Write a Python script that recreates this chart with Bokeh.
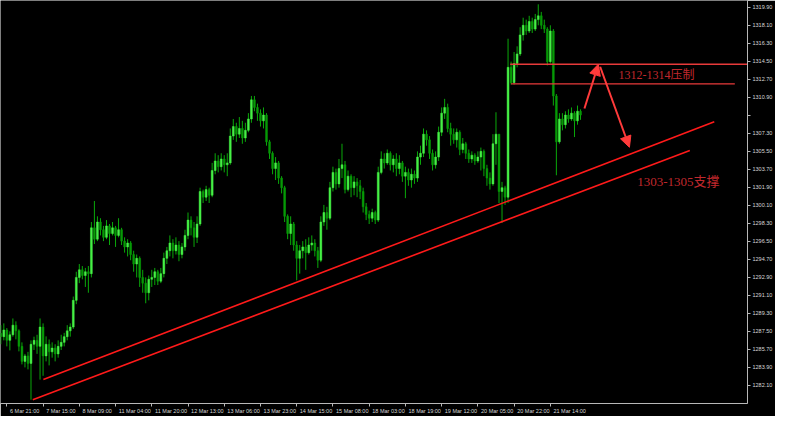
from bokeh.plotting import figure
from bokeh.models import Range1d, FixedTicker, Arrow, NormalHead, Label, ColumnDataSource
from bokeh.embed import file_html
from bokeh.resources import INLINE

# ---------------- data (XAUUSD H1) ----------------
first_open = 1287.30
close = [
1286.97, 1287.64, 1286.60, 1287.16, 1288.12, 1287.55, 1286.00, 1284.50, 1285.05, 1284.30,
1286.21, 1286.60, 1286.00, 1287.93, 1285.05, 1286.21, 1285.45, 1285.83, 1285.25, 1286.00,
1286.40, 1286.97, 1287.55, 1287.93, 1290.60, 1292.89, 1293.65, 1293.08, 1293.46, 1293.27,
1297.85, 1296.71, 1298.43, 1297.66, 1296.90, 1298.04, 1297.28, 1297.85, 1297.09, 1297.66,
1296.52, 1295.94, 1296.33, 1295.18, 1294.23, 1294.80, 1292.89, 1292.32, 1291.36, 1292.70,
1292.89, 1293.46, 1292.51, 1293.27, 1294.80, 1295.56, 1296.33, 1295.56, 1296.13, 1295.18,
1295.94, 1297.09, 1298.62, 1297.85, 1296.90, 1298.23, 1301.48, 1300.91, 1301.67, 1301.10,
1303.58, 1304.53, 1303.96, 1304.73, 1304.15, 1304.34, 1307.02, 1307.97, 1307.21, 1307.78,
1306.83, 1307.59, 1308.73, 1310.64, 1309.88, 1309.31, 1308.54, 1309.12, 1306.44, 1305.30,
1303.77, 1304.34, 1302.82, 1301.86, 1299.00, 1297.28, 1298.23, 1296.13, 1294.80, 1295.56,
1295.94, 1295.37, 1296.13, 1296.33, 1295.56, 1294.61, 1298.43, 1299.38, 1298.81, 1301.86,
1303.39, 1302.24, 1303.77, 1304.15, 1301.67, 1303.01, 1301.86, 1302.44, 1302.05, 1301.48,
1299.95, 1299.19, 1298.81, 1299.38, 1298.62, 1303.39, 1304.73, 1304.34, 1305.30, 1304.15,
1304.73, 1303.77, 1304.34, 1303.01, 1303.39, 1302.63, 1303.20, 1302.82, 1304.92, 1305.30,
1307.21, 1306.64, 1305.30, 1304.15, 1304.92, 1307.40, 1309.31, 1309.88, 1307.78, 1307.21,
1306.64, 1307.40, 1305.68, 1306.25, 1305.30, 1304.73, 1305.11, 1304.53, 1304.92, 1305.49,
1303.77, 1302.82, 1302.24, 1306.25, 1307.21, 1301.48, 1301.86, 1300.91, 1313.89, 1312.36,
1314.27, 1315.23, 1317.13, 1318.09, 1317.52, 1318.47, 1317.71, 1318.66, 1319.04, 1318.09,
1317.71, 1314.46, 1317.52, 1311.03, 1306.44, 1308.73, 1308.16, 1309.12, 1308.73, 1309.31,
1308.54, 1309.50, 1309.12,
]
high = [
1288.12, 1288.30, 1287.83, 1287.50, 1288.79, 1288.50, 1287.70, 1286.40, 1285.25, 1285.45,
1286.60, 1286.97, 1287.16, 1288.79, 1288.30, 1287.00, 1286.69, 1286.40, 1286.21, 1286.60,
1287.16, 1287.35, 1288.12, 1288.30, 1290.98, 1293.46, 1294.23, 1294.03, 1293.84, 1294.03,
1298.43, 1300.53, 1299.00, 1298.81, 1298.04, 1298.62, 1298.23, 1298.43, 1298.04, 1298.81,
1297.85, 1296.90, 1296.71, 1296.52, 1295.56, 1295.18, 1294.99, 1293.65, 1292.89, 1293.08,
1293.65, 1293.84, 1293.65, 1293.84, 1295.37, 1295.94, 1297.09, 1296.71, 1296.90, 1296.52,
1296.33, 1297.66, 1299.38, 1299.00, 1298.43, 1299.00, 1301.86, 1301.67, 1302.05, 1301.86,
1304.34, 1305.30, 1305.11, 1305.30, 1305.11, 1305.30, 1307.78, 1308.73, 1308.35, 1308.92,
1308.54, 1308.35, 1309.31, 1311.03, 1311.03, 1310.26, 1309.69, 1309.88, 1309.31, 1306.64,
1305.49, 1304.92, 1304.53, 1303.01, 1302.05, 1299.19, 1299.00, 1298.43, 1296.52, 1296.13,
1296.52, 1296.71, 1296.90, 1297.09, 1296.71, 1295.94, 1299.00, 1300.14, 1299.95, 1302.44,
1303.96, 1303.77, 1304.73, 1306.25, 1304.53, 1303.58, 1303.20, 1303.01, 1302.82, 1302.63,
1301.86, 1300.33, 1299.57, 1299.76, 1299.57, 1303.96, 1305.49, 1305.30, 1305.68, 1305.49,
1305.11, 1305.30, 1305.11, 1304.53, 1303.96, 1303.77, 1303.77, 1303.58, 1305.49, 1306.06,
1307.78, 1307.59, 1307.02, 1305.68, 1305.49, 1307.97, 1309.88, 1310.74, 1310.26, 1308.35,
1307.78, 1307.78, 1307.59, 1306.83, 1306.44, 1305.68, 1305.49, 1305.30, 1305.49, 1305.87,
1305.68, 1304.15, 1303.39, 1307.21, 1309.40, 1306.83, 1302.44, 1302.05, 1316.75, 1314.46,
1315.42, 1315.99, 1317.90, 1318.85, 1318.66, 1319.04, 1318.85, 1319.23, 1320.19, 1319.43,
1318.66, 1317.90, 1318.09, 1317.71, 1311.22, 1309.31, 1309.31, 1309.50, 1309.69, 1309.88,
1309.50, 1310.07, 1309.69,
]
low = [
1286.21, 1286.60, 1286.00, 1285.60, 1286.97, 1286.70, 1285.50, 1284.20, 1283.90, 1283.70,
1280.67, 1285.64, 1285.25, 1282.68, 1283.06, 1284.50, 1284.10, 1284.87, 1284.50, 1284.87,
1285.64, 1286.00, 1286.60, 1286.97, 1287.74, 1290.22, 1292.32, 1292.70, 1291.94, 1291.36,
1292.89, 1296.23, 1296.52, 1297.09, 1296.52, 1296.71, 1296.13, 1297.09, 1295.94, 1296.90,
1296.13, 1295.37, 1294.99, 1294.61, 1293.46, 1292.89, 1291.94, 1291.36, 1290.31, 1290.60,
1291.94, 1292.13, 1292.13, 1292.32, 1292.89, 1294.23, 1294.99, 1294.80, 1295.18, 1294.51,
1294.80, 1295.56, 1296.71, 1297.09, 1295.94, 1296.33, 1298.04, 1300.33, 1300.53, 1300.33,
1300.91, 1303.20, 1303.39, 1303.58, 1303.39, 1303.01, 1304.15, 1306.64, 1306.44, 1306.83,
1306.25, 1306.44, 1307.40, 1308.35, 1309.50, 1308.54, 1307.97, 1307.78, 1306.06, 1304.73,
1303.20, 1302.63, 1302.24, 1301.29, 1298.43, 1296.71, 1296.13, 1295.56, 1292.60, 1293.27,
1294.80, 1293.65, 1295.18, 1295.56, 1294.99, 1293.84, 1294.42, 1298.04, 1297.66, 1298.62,
1301.48, 1301.67, 1301.86, 1302.82, 1301.29, 1301.48, 1300.91, 1301.10, 1300.91, 1300.72,
1299.38, 1298.62, 1298.23, 1298.43, 1298.23, 1298.43, 1303.20, 1303.77, 1304.15, 1303.58,
1303.39, 1303.01, 1303.20, 1302.44, 1300.81, 1302.05, 1301.86, 1302.24, 1302.44, 1304.15,
1304.92, 1306.06, 1304.73, 1303.58, 1303.77, 1304.53, 1307.02, 1308.73, 1307.40, 1306.06,
1306.25, 1305.87, 1305.11, 1305.30, 1304.73, 1304.34, 1304.34, 1304.15, 1304.34, 1303.58,
1303.01, 1302.05, 1301.67, 1302.05, 1304.15, 1300.33, 1298.33, 1300.14, 1300.33, 1312.17,
1312.17, 1313.89, 1315.03, 1316.56, 1317.13, 1317.32, 1317.32, 1317.52, 1318.09, 1317.71,
1317.32, 1314.08, 1314.27, 1310.07, 1303.10, 1306.25, 1307.59, 1307.78, 1308.35, 1308.54,
1306.92, 1308.16, 1308.64,
]

# x-axis labels (bar index of the tick -> time label, written to the right of the tick)
x_tick_pos = [2, 14, 26, 38, 50, 62, 74, 86, 98, 110, 122, 134, 146, 158, 170, 182]
x_tick_labels = ["6 Mar 21:00", "7 Mar 15:00", "8 Mar 09:00", "11 Mar 04:00", "11 Mar 20:00",
                 "12 Mar 13:00", "13 Mar 06:00", "13 Mar 23:00", "14 Mar 15:00", "15 Mar 08:00",
                 "18 Mar 03:00", "18 Mar 19:00", "19 Mar 12:00", "20 Mar 05:00", "20 Mar 22:00",
                 "21 Mar 14:00"]
# y-axis price ticks
y_tick_pos = [1282.1, 1283.9, 1285.7, 1287.5, 1289.3, 1291.1, 1292.9, 1294.7, 1296.5, 1298.3,
              1300.1, 1301.9, 1303.7, 1305.5, 1307.3, 1309.1, 1310.9, 1312.7, 1314.5, 1316.3,
              1318.1, 1319.9]
y_tick_hidden = [1309.1]

# trend lines (support channel): start/end bar index and price
trend_x0 = [10.6, 14.1]
trend_y0 = [1280.67, 1282.68]
trend_x1 = [228.2, 236.3]
trend_y1 = [1305.58, 1308.45]
# horizontal resistance lines
resist_x0 = [168.7, 169.0]
resist_x1 = [250.0, 243.1]
resist_y = [1314.20, 1312.24]
# arrows
arrow_x0 = [193.3, 198.5]
arrow_y0 = [1309.78, 1313.95]
arrow_x1 = [197.9, 208.2]
arrow_y1 = [1314.20, 1305.90]
# annotations
ann_text = ["1312-1314压制", "1303-1305支撑"]
ann_x = [204.6, 210.8]
ann_y = [1313.13, 1302.44]

# ---------------- build ----------------
n = len(close)
idx = list(range(n))
opens = [first_open] + close[:-1]
hi = [max(h, o, c) for h, o, c in zip(high, opens, close)]
lo = [min(l, o, c) for l, o, c in zip(low, opens, close)]
top = [max(o, c) for o, c in zip(opens, close)]
bot = [min(o, c) for o, c in zip(opens, close)]
up_col = "#46f046"
dn_col = "#079a07"
body_col = [up_col if c >= o else dn_col for o, c in zip(opens, close)]

src = ColumnDataSource(dict(x=idx, hi=hi, lo=lo, top=top, bot=bot, col=body_col))

p = figure(width=775, height=416,
           x_range=Range1d(-0.1, 247.3), y_range=Range1d(1280.29, 1320.57),
           output_backend="svg", toolbar_location=None,
           x_axis_location="below", y_axis_location="right",
           background_fill_color="black", border_fill_color="black",
           min_border_left=0, min_border_top=0, min_border_right=0, min_border_bottom=0)
p.outline_line_color = None
p.grid.visible = False

p.segment(x0="x", y0="lo", x1="x", y1="hi", source=src, line_color="#0aa80a", line_width=1)
p.vbar(x="x", width=0.62, top="top", bottom="bot", source=src,
       fill_color="col", line_color="col", line_width=0.5)

red = "#ff1a1a"
p.segment(x0=trend_x0, y0=trend_y0, x1=trend_x1, y1=trend_y1, line_color=red, line_width=1.6)
p.segment(x0=resist_x0, y0=resist_y, x1=resist_x1, y1=resist_y, line_color="#e83a3a", line_width=1.4)

for xs, ys, xe, ye in zip(arrow_x0, arrow_y0, arrow_x1, arrow_y1):
    p.add_layout(Arrow(end=NormalHead(size=11, fill_color="#ff3b3b", line_color="#ff3b3b"),
                       x_start=xs, y_start=ys, x_end=xe, y_end=ye,
                       line_color="#ff3b3b", line_width=2))

sizes = ["12px", "13px"]
for t, x, y, s in zip(ann_text, ann_x, ann_y, sizes):
    p.add_layout(Label(x=x, y=y, text=t, text_color="#c0282d", text_font_size=s,
                       text_font="'Liberation Serif', 'Noto Sans CJK SC'",
                       text_baseline="middle", text_align="left"))

# axes: x labels sit to the right of their tick marks (ticks drawn as minor ticks)
label_centers = [pos + 0.5 * len(lab) + 0.4 for pos, lab in zip(x_tick_pos, x_tick_labels)]
ax = p.xaxis[0]
ax.ticker = FixedTicker(ticks=label_centers, minor_ticks=x_tick_pos)
ax.major_label_overrides = {k: v for k, v in zip(label_centers, x_tick_labels)}
ax.major_tick_line_color = None
ax.minor_tick_line_color = "#b8b8b8"
ax.minor_tick_in = 0
ax.minor_tick_out = 3
ay = p.yaxis[0]
ay.ticker = FixedTicker(ticks=y_tick_pos)
ay.major_label_overrides = {t: ("" if t in y_tick_hidden else f"{t:.2f}") for t in y_tick_pos}
ay.major_tick_line_color = "#b8b8b8"
ay.minor_tick_line_color = None
for a in (ax, ay):
    a.axis_line_color = "#b8b8b8"
    a.major_tick_in = 0
    a.major_tick_out = 3
    a.major_label_text_color = "#d8d8d8"
    a.major_label_text_font = "Liberation Sans"
    a.major_label_text_font_size = "5.5px"
    a.major_label_standoff = 2
ax.major_label_standoff = 1

open("out.html", "w").write(file_html(p, INLINE))
